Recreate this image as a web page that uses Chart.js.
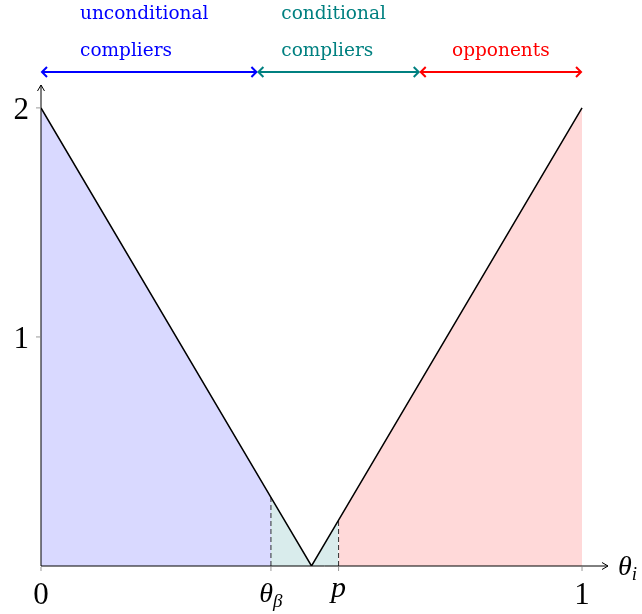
<!DOCTYPE html>
<html lang="en">
<head>
<meta charset="UTF-8">
<title>Compliance regions</title>
<script src="https://cdn.jsdelivr.net/npm/chart.js"></script>
<style>
    body {
        margin: 0;
        background: #fff;
    }
    canvas {
        display: block;
    }
</style>
</head>
<body>
<canvas id="myChart" width="642" height="614"></canvas>

<script>
    // V-shaped payoff curve
    const curveX = [0, 0.425, 0.5, 0.55, 1];
    const curveY = [2, 0.3, 0, 0.2, 2];

    // thresholds on the x axis
    const thetaBeta = 0.425;
    const pValue = 0.55;
    const xTickValues = [0, thetaBeta, pValue, 1];
    const xTickLabels = ['0', 'θβ', 'p', '1'];
    const yTickValues = [1, 2];
    const yTickLabels = ['1', '2'];

    // groups shown above the plot
    const groupBounds = [0, 0.4, 0.7, 1];
    const groupNames = [['unconditional', 'compliers'], ['conditional', 'compliers'], ['opponents']];
    const groupColors = ['#0000ff', '#008080', '#ff0000'];
    const fillColors = ['rgb(217,217,255)', 'rgb(217,236,236)', 'rgb(255,217,217)'];

    function points(from, to) {
        const pts = [];
        for (let i = from; i <= to; i++) {
            pts.push({ x: curveX[i], y: curveY[i] });
        }
        return pts;
    }

    function valueAt(x) {
        for (let i = 0; i < curveX.length - 1; i++) {
            if (x >= curveX[i] && x <= curveX[i + 1]) {
                const t = (x - curveX[i]) / (curveX[i + 1] - curveX[i]);
                return curveY[i] + t * (curveY[i + 1] - curveY[i]);
            }
        }
        return 0;
    }

    // fill pieces: 0..thetaBeta, thetaBeta..p, p..1 (drawn underneath everything)
    const fillSets = [[0, 1], [1, 3], [3, 4]].map((r, i) => ({
        data: points(r[0], r[1]),
        borderWidth: 0,
        backgroundColor: fillColors[i],
        fill: 'origin',
        pointRadius: 0,
        tension: 0,
        order: 3
    }));

    const dashSets = [thetaBeta, pValue].map((v) => ({
        data: [{ x: v, y: 0 }, { x: v, y: valueAt(v) }],
        borderColor: '#000',
        borderWidth: 0.8,
        borderDash: [5, 3],
        fill: false,
        pointRadius: 0,
        order: 2
    }));

    function arrowHead(ctx, x, y, dir, len, half) {
        // dir: unit vector pointing to the tip
        ctx.beginPath();
        ctx.moveTo(x - dir[0] * len - dir[1] * half, y - dir[1] * len + dir[0] * half);
        ctx.lineTo(x, y);
        ctx.lineTo(x - dir[0] * len + dir[1] * half, y - dir[1] * len - dir[0] * half);
        ctx.stroke();
    }

    const decor = {
        id: 'decor',
        afterDatasetsDraw(chart) {
            const ctx = chart.ctx;
            const xs = chart.scales.x;
            const ys = chart.scales.y;
            const area = chart.chartArea;
            const x0 = xs.getPixelForValue(0);
            const y0 = ys.getPixelForValue(0);
            ctx.save();

            // axes
            ctx.strokeStyle = '#000';
            ctx.lineWidth = 1;
            ctx.beginPath();
            ctx.moveTo(x0, y0);
            ctx.lineTo(area.right, y0);
            ctx.moveTo(x0, y0);
            ctx.lineTo(x0, area.top);
            ctx.stroke();
            arrowHead(ctx, area.right, y0, [1, 0], 6, 3.5);
            arrowHead(ctx, x0, area.top, [0, -1], 6, 3.5);

            // tick marks
            ctx.strokeStyle = '#999';
            ctx.beginPath();
            xTickValues.forEach((v) => {
                const px = xs.getPixelForValue(v);
                ctx.moveTo(px, y0 + 1);
                ctx.lineTo(px, y0 + 5);
            });
            yTickValues.forEach((v) => {
                const py = ys.getPixelForValue(v);
                ctx.moveTo(x0 - 5, py);
                ctx.lineTo(x0 - 1, py);
            });
            ctx.stroke();

            // tick labels
            ctx.fillStyle = '#000';
            ctx.textBaseline = 'alphabetic';
            ctx.textAlign = 'center';
            xTickValues.forEach((v, i) => {
                const px = xs.getPixelForValue(v);
                const lbl = xTickLabels[i];
                if (lbl === 'θβ') {
                    ctx.font = 'italic 28px "Liberation Serif"';
                    const w1 = ctx.measureText('θ').width;
                    ctx.font = 'italic 19px "Liberation Serif"';
                    const w2 = ctx.measureText('β').width;
                    const left = px - (w1 + w2) / 2;
                    ctx.textAlign = 'left';
                    ctx.font = 'italic 28px "Liberation Serif"';
                    ctx.fillText('θ', left, 602);
                    ctx.font = 'italic 19px "Liberation Serif"';
                    ctx.fillText('β', left + w1, 607);
                    ctx.textAlign = 'center';
                } else if (lbl === 'p') {
                    ctx.font = 'italic 30px "Liberation Serif"';
                    ctx.fillText('p', px, 597);
                } else {
                    ctx.font = '31px "Liberation Serif"';
                    ctx.fillText(lbl, px, 604);
                }
            });
            ctx.textAlign = 'right';
            ctx.font = '31px "Liberation Serif"';
            yTickValues.forEach((v, i) => {
                ctx.fillText(yTickLabels[i], x0 - 12, ys.getPixelForValue(v) + 11);
            });

            // axis name
            ctx.textAlign = 'left';
            ctx.font = 'italic 28px "Liberation Serif"';
            ctx.fillText('θ', area.right + 10, y0 + 9);
            const tw = ctx.measureText('θ').width;
            ctx.font = 'italic 19px "Liberation Serif"';
            ctx.fillText('i', area.right + 10 + tw, y0 + 14);

            // group arrows and names
            const arrowY = 72;
            ctx.lineWidth = 2;
            for (let g = 0; g < groupNames.length; g++) {
                const a = xs.getPixelForValue(groupBounds[g]);
                const b = xs.getPixelForValue(groupBounds[g + 1]);
                ctx.strokeStyle = groupColors[g];
                ctx.beginPath();
                ctx.moveTo(a + 1, arrowY);
                ctx.lineTo(b - 1, arrowY);
                ctx.stroke();
                arrowHead(ctx, a + 1, arrowY, [-1, 0], 5, 5);
                arrowHead(ctx, b - 1, arrowY, [1, 0], 5, 5);

                ctx.fillStyle = groupColors[g];
                ctx.font = '18.5px "DejaVu Serif"';
                const lines = groupNames[g];
                const widest = Math.max(...lines.map((s) => ctx.measureText(s).width));
                const left = (a + b) / 2 - widest / 2 - (lines.length > 1 ? 5 : 0);
                ctx.textAlign = 'left';
                lines.slice().reverse().forEach((s, k) => {
                    ctx.fillText(s, left, 56 - k * 37);
                });
            }
            ctx.restore();
        }
    };

    const ctx = document.getElementById('myChart');
    let myChart = new Chart(ctx, {
        type: 'line',
        data: {
            datasets: [
                ...fillSets,
                {
                    data: points(0, curveX.length - 1),
                    borderColor: '#000',
                    borderWidth: 1.5,
                    fill: false,
                    pointRadius: 0,
                    tension: 0,
                    order: 1
                },
                ...dashSets
            ]
        },
        options: {
            responsive: false,
            animation: false,
            layout: {
                padding: { left: 41, right: 34, top: 85, bottom: 48 }
            },
            scales: {
                x: { type: 'linear', min: 0, max: 1.048, display: false },
                y: { type: 'linear', min: 0, max: 2.1, display: false }
            },
            plugins: {
                legend: { display: false },
                tooltip: { enabled: false }
            }
        },
        plugins: [decor]
    });
</script>
</body>
</html>
